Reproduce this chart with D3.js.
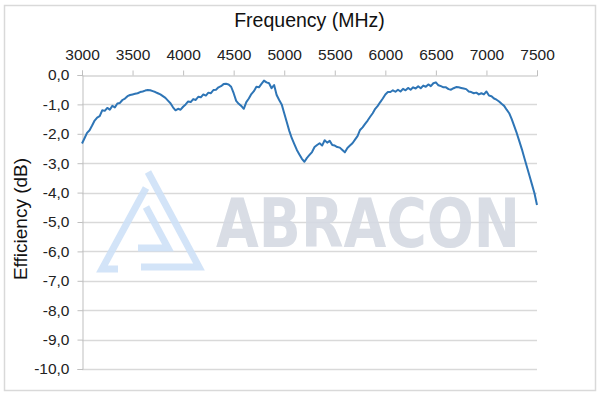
<!DOCTYPE html>
<html>
<head>
<meta charset="utf-8">
<script src="https://cdn.jsdelivr.net/npm/d3@7"></script>
<style>
body{margin:0;background:#fff;}
svg{display:block;font-family:"Liberation Sans",Arial,sans-serif;}
</style>
</head>
<body>
<div id="chart"></div>
<script>
// frequency in MHz (25 MHz steps), efficiency in dB
var freqs = d3.range(3000, 7501, 25);
var efficiency = [
	-2.33,-2.15,-1.97,-1.88,-1.72,-1.55,-1.45,-1.40,-1.20,-1.22,-1.12,-1.18,-1.05,-1.10,-0.97,-0.95,-0.85,-0.80,-0.72,-0.68,
	-0.66,-0.64,-0.62,-0.58,-0.56,-0.53,-0.51,-0.52,-0.55,-0.58,-0.62,-0.66,-0.72,-0.78,-0.87,-0.96,-1.10,-1.20,-1.15,-1.18,
	-1.08,-1.00,-0.90,-0.92,-0.82,-0.85,-0.74,-0.76,-0.66,-0.70,-0.60,-0.62,-0.51,-0.50,-0.42,-0.38,-0.31,-0.30,-0.32,-0.40,
	-0.62,-0.88,-0.98,-1.05,-1.15,-0.92,-0.80,-0.65,-0.55,-0.40,-0.42,-0.30,-0.19,-0.25,-0.28,-0.45,-0.34,-0.68,-0.85,-1.00,
	-1.30,-1.60,-1.90,-2.15,-2.35,-2.55,-2.70,-2.85,-2.95,-2.82,-2.72,-2.62,-2.45,-2.38,-2.32,-2.40,-2.22,-2.30,-2.24,-2.38,
	-2.40,-2.45,-2.47,-2.55,-2.63,-2.48,-2.40,-2.32,-2.20,-2.08,-1.87,-1.78,-1.66,-1.55,-1.42,-1.30,-1.15,-1.05,-0.92,-0.80,
	-0.66,-0.58,-0.58,-0.52,-0.57,-0.50,-0.56,-0.47,-0.52,-0.44,-0.50,-0.42,-0.46,-0.38,-0.45,-0.36,-0.40,-0.32,-0.38,-0.28,
	-0.25,-0.35,-0.38,-0.42,-0.42,-0.48,-0.50,-0.45,-0.41,-0.42,-0.44,-0.46,-0.48,-0.56,-0.58,-0.62,-0.60,-0.66,-0.62,-0.66,
	-0.56,-0.70,-0.72,-0.80,-0.84,-0.90,-0.98,-1.05,-1.18,-1.30,-1.50,-1.74,-1.98,-2.25,-2.52,-2.82,-3.12,-3.42,-3.72,-4.02,
	-4.42];
var xTicks = [3000,3500,4000,4500,5000,5500,6000,6500,7000,7500];
var yTicks = [0,-1,-2,-3,-4,-5,-6,-7,-8,-9,-10];

var W = 600, H = 397;
var margin = {top:75, left:82, right:63, bottom:28};

var svg = d3.select("#chart").append("svg").attr("width",W).attr("height",H);

// outer frame
svg.append("rect").attr("x",4.5).attr("y",5.5).attr("width",591).attr("height",385)
	.attr("fill","#fff").attr("stroke","#d9d9d9").attr("stroke-width",1.5);

var x = d3.scaleLinear().domain([3000,7500]).range([margin.left, W-margin.right]);
var y = d3.scaleLinear().domain([0,-10]).range([margin.top, H-margin.bottom]);

// gridlines
svg.append("g").selectAll("line").data(yTicks.slice(1)).enter().append("line")
	.attr("x1",x(3000)).attr("x2",x(7500))
	.attr("y1",function(d){return Math.round(y(d))+0.5}).attr("y2",function(d){return Math.round(y(d))+0.5})
	.attr("stroke","#d9d9d9").attr("stroke-width",1.3);

// watermark
var wm = svg.append("g").attr("opacity",0.9);
wm.append("path")
	.attr("d","M148,172 L199,267 L141,267 M146,188 L102,269 L118,269 M146,207 L168,248 L138,248")
	.attr("fill","none").attr("stroke","#cfe2f8").attr("stroke-width",7).attr("stroke-linejoin","miter");
wm.append("text").attr("x",216).attr("y",247).text("ABRACON")
	.attr("textLength",304).attr("lengthAdjust","spacingAndGlyphs")
	.style("font-family","'DejaVu Sans Condensed','DejaVu Sans',sans-serif").style("font-weight","bold").style("font-size","68px")
	.attr("fill","#d5dae3");

// axes
var xAxis = d3.axisTop(x).tickValues(xTicks).tickSize(5).tickFormat(d3.format("d"));
var gx = svg.append("g").attr("transform","translate(0,"+(margin.top+0.5)+")").call(xAxis);
gx.select(".domain").attr("stroke","#bfbfbf");
gx.selectAll(".tick line").attr("stroke","#bfbfbf");
gx.selectAll(".tick text").attr("y",-16).style("font-size","15.5px").attr("fill","#222")
	.style("font-family","'Liberation Sans',Arial,sans-serif");

var yAxis = d3.axisLeft(y).tickValues(yTicks).tickSize(5)
	.tickFormat(function(d){return d.toFixed(1).replace(".",",")});
var gy = svg.append("g").attr("transform","translate("+(margin.left+0.5)+",0)").call(yAxis);
gy.select(".domain").attr("stroke","#bfbfbf");
gy.selectAll(".tick line").attr("stroke","#bfbfbf");
gy.selectAll(".tick text").attr("x",-13).style("font-size","15.5px").attr("fill","#222")
	.style("font-family","'Liberation Sans',Arial,sans-serif");

// data line
var line = d3.line().x(function(d){return x(d[0])}).y(function(d){return y(d[1])});
svg.append("path").datum(d3.zip(freqs,efficiency)).attr("d",line)
	.attr("fill","none").attr("stroke","#2e75b6").attr("stroke-width",2).attr("stroke-linejoin","round");

// titles
svg.append("text").attr("x",(x(3000)+x(7500))/2).attr("y",27).attr("text-anchor","middle")
	.text("Frequency (MHz)").style("font-size","19.5px").attr("fill","#111");
svg.append("text").attr("transform","translate(27,219) rotate(-90)").attr("text-anchor","middle")
	.text("Efficiency (dB)").style("font-size","19px").attr("fill","#111");
</script>
</body>
</html>
